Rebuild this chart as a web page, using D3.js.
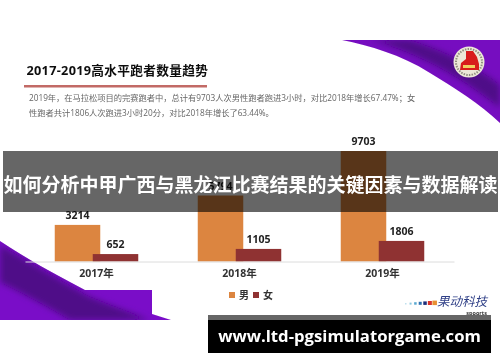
<!DOCTYPE html>
<html lang="en">
<head>
<meta charset="utf-8">
<title>2017-2019高水平跑者数量趋势</title>
<script src="https://d3js.org/d3.v7.min.js"></script>
<style>
html, body { margin: 0; padding: 0; background: #fff; }
svg { display: block; }
text { font-family: "Open Sans", "Noto Sans CJK SC", sans-serif; }
</style>
</head>
<body>
<div id="chart"></div>
<script>
// chart values
var years = ["2017年", "2018年", "2019年"];
var seriesNames = ["男", "女"];
var male = [3214, 5794, 9703];
var female = [652, 1105, 1806];
var colors = ["#dc8540", "#8f3232"];

var title = "2017-2019高水平跑者数量趋势";
var noteLines = [
  "2019年，在马拉松项目的完赛跑者中，总计有9703人次男性跑者跑进3小时，对比2018年增长67.47%；女",
  "性跑者共计1806人次跑进3小时20分，对比2018年增长了63.44%。"
];
var headline = "如何分析中甲广西与黑龙江比赛结果的关键因素与数据解读";
var siteUrl = "www.ltd-pgsimulatorgame.com";
var brand = "果动科技";
var brandSub = "spoorts";
var brandDots = ["#bfe0ee", "#8cc8e0", "#5aa8d0", "#2f6fb0", "#1f2f7a", "#d8302a", "#e89030"];

var w = 500, h = 362;

var svg = d3.select("#chart").append("svg")
  .attr("width", w)
  .attr("height", h);

var defs = svg.append("defs");
defs.append("filter").attr("id", "soft")
  .append("feGaussianBlur").attr("stdDeviation", 0.45);
defs.append("filter").attr("id", "softer")
  .append("feGaussianBlur").attr("stdDeviation", 3);

// slide image area, slightly soft like the source
var slide = svg.append("g").attr("filter", "url(#soft)");

// purple corners: light base with a darker streak
var topClip = defs.append("clipPath").attr("id", "topClip");
var topShape = "M342,40 C370,46 400,54 430,73 C455,88 480,104 500,123 L500,40 Z";
topClip.append("path").attr("d", topShape);
slide.append("path").attr("d", topShape).attr("fill", "#760cc0");
slide.append("g").attr("clip-path", "url(#topClip)")
  .append("path")
  .attr("d", "M370,40 C410,50 455,72 500,108 L500,85 C470,62 440,50 410,40 Z")
  .attr("fill", "#4f0a88")
  .attr("filter", "url(#softer)");

var leftClip = defs.append("clipPath").attr("id", "leftClip");
var leftShape = "M0,241 C25,258 55,274 85,290 L152,290 L152,314 L171,320 L0,320 Z";
leftClip.append("path").attr("d", leftShape);
slide.append("path").attr("d", leftShape).attr("fill", "#7a0cc8");
slide.append("g").attr("clip-path", "url(#leftClip)")
  .append("path")
  .attr("d", "M0,245 C30,262 60,280 88,296 C110,305 130,312 150,320 L70,320 C45,305 20,292 0,282 Z")
  .attr("fill", "#4f0a88")
  .attr("filter", "url(#softer)");

// logo
var logo = slide.append("g").attr("transform", "translate(469,62)");
logo.append("circle").attr("r", 15.5).attr("fill", "#ece8d8");
logo.append("circle").attr("r", 13).attr("fill", "none")
  .attr("stroke", "#6a6a5a").attr("stroke-width", 2)
  .attr("stroke-dasharray", "1.5 1.2").attr("stroke-opacity", 0.7);
logo.append("path")
  .attr("d", "M-3,-11 L4,-11 L8,-5 L10,2 L10,8 L-9,8 L-8,1 L-3,-3 Z")
  .attr("fill", "#d81e1a");
logo.append("rect")
  .attr("x", -6).attr("y", 3).attr("width", 12).attr("height", 3)
  .attr("fill", "#f0d060");

// heading
slide.append("text")
  .attr("x", 26.5).attr("y", 75)
  .attr("font-size", 12.7).attr("font-weight", 700)
  .attr("letter-spacing", 0.3)
  .attr("fill", "#111")
  .text(title);
slide.append("rect")
  .attr("x", 24).attr("y", 85).attr("width", 183).attr("height", 2.5)
  .attr("fill", "#c26a66");

slide.selectAll(".note").data(noteLines).enter().append("text")
  .attr("class", "note")
  .attr("x", 29)
  .attr("y", (d, i) => 101 + i * 14.5)
  .attr("font-size", 8.25)
  .attr("fill", "#666")
  .text(d => d);

// scales
var x = d3.scaleBand().domain(years).range([25, 454]);
var y = d3.scaleLinear().domain([0, 9703]).range([261.5, 151]);
var barW = 45.5;
var offset = 38;

var groups = slide.selectAll(".year").data(years).enter().append("g")
  .attr("class", "year")
  .attr("transform", d => "translate(" + x(d) + ",0)");

var centre = x.bandwidth() / 2;

function drawSeries(values, color, shift) {
  groups.append("rect")
    .attr("x", centre + shift - barW / 2)
    .attr("y", (d, i) => y(values[i]))
    .attr("width", barW)
    .attr("height", (d, i) => y(0) - y(values[i]))
    .attr("fill", color);
  groups.append("text")
    .attr("x", centre + shift)
    .attr("y", (d, i) => y(values[i]) - 6)
    .attr("text-anchor", "middle")
    .attr("font-size", 10.5).attr("font-weight", 700)
    .attr("fill", "#222")
    .text((d, i) => values[i]);
}
drawSeries(male, colors[0], -offset / 2);
drawSeries(female, colors[1], offset / 2);

// x axis
var xAxis = d3.axisBottom(x).tickSize(0).tickPadding(8);
var axisG = slide.append("g")
  .attr("transform", "translate(0," + y(0) + ")")
  .call(xAxis);
axisG.select(".domain").attr("stroke", "#dcdcdc");
axisG.selectAll("text")
  .attr("font-size", 10.5).attr("font-weight", 700)
  .attr("fill", "#333")
  .style("font-family", '"Open Sans", "Noto Sans CJK SC", sans-serif');

// legend
var legendX = d3.scaleBand().domain(seriesNames).range([229, 277]);
var legend = slide.selectAll(".legend").data(seriesNames).enter().append("g")
  .attr("class", "legend")
  .attr("transform", d => "translate(" + legendX(d) + ",0)");
legend.append("rect")
  .attr("y", 292).attr("width", 6).attr("height", 6)
  .attr("fill", (d, i) => colors[i]);
legend.append("text")
  .attr("x", 10).attr("y", 299)
  .attr("font-size", 10).attr("font-weight", 700)
  .attr("fill", "#333")
  .text(d => d);

// brand mark
var dotX = d3.scaleBand().domain(d3.range(brandDots.length)).range([405, 437]);
slide.selectAll(".dot").data(brandDots).enter().append("rect")
  .attr("class", "dot")
  .attr("x", (d, i) => dotX(i))
  .attr("y", (d, i) => 303 - i * 0.4)
  .attr("width", (d, i) => 1.5 + i * 0.5)
  .attr("height", (d, i) => 1.5 + i * 0.5)
  .attr("fill", d => d);
slide.append("text")
  .attr("x", 437).attr("y", 306)
  .attr("font-size", 12.5).attr("font-style", "italic")
  .attr("fill", "#2f3f86")
  .text(brand);
slide.append("text")
  .attr("x", 487).attr("y", 314.5)
  .attr("text-anchor", "end")
  .attr("font-size", 5.5).attr("font-weight", 700)
  .attr("fill", "#333")
  .text(brandSub);

// overlays
svg.append("rect")
  .attr("x", 3).attr("y", 151).attr("width", 495).attr("height", 61)
  .attr("fill", "#000").attr("fill-opacity", 0.6);
svg.append("text")
  .attr("x", 250.5).attr("y", 185)
  .attr("text-anchor", "middle")
  .attr("dominant-baseline", "central")
  .attr("font-size", 19).attr("font-weight", 700)
  .attr("fill", "#fff")
  .text(headline);

svg.append("rect")
  .attr("x", 208).attr("y", 315).attr("width", 283).attr("height", 5)
  .attr("fill", "#666");
svg.append("rect")
  .attr("x", 208).attr("y", 320).attr("width", 283).attr("height", 33)
  .attr("fill", "#000");
svg.append("text")
  .attr("x", 349.5).attr("y", 342)
  .attr("text-anchor", "middle")
  .attr("font-size", 16.7).attr("font-weight", 700)
  .attr("fill", "#fff")
  .text(siteUrl);
</script>
</body>
</html>
